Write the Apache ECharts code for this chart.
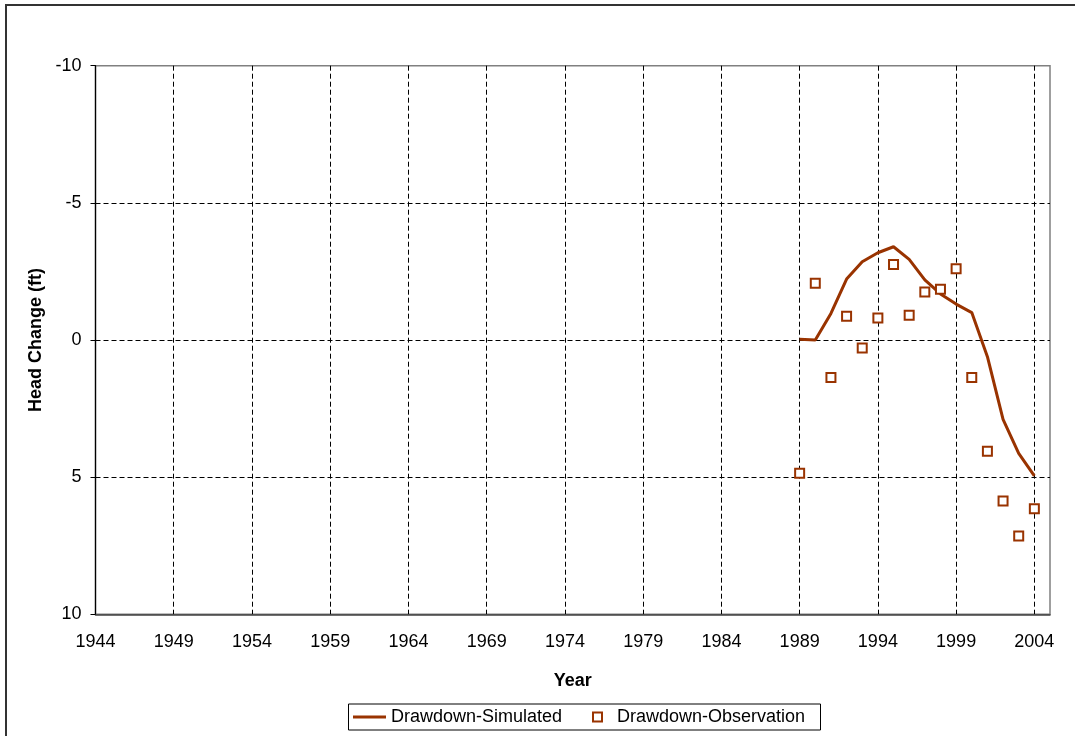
<!DOCTYPE html>
<html>
<head>
<meta charset="utf-8">
<script src="https://cdn.jsdelivr.net/npm/echarts@6/dist/echarts.min.js"></script>
<style>
  html, body { margin: 0; padding: 0; background: #fff; }
  #chart { width: 1075px; height: 736px; }
</style>
</head>
<body>
<div id="chart"></div>
<script>
// Years of record
const years = [1989, 1990, 1991, 1992, 1993, 1994, 1995, 1996,
               1997, 1998, 1999, 2000, 2001, 2002, 2003, 2004];
// Simulated drawdown (ft); negative = head rise
const simulated = [-0.03, 0.0, -0.97, -2.22, -2.85, -3.18, -3.40, -2.94,
                   -2.19, -1.68, -1.31, -1.00, 0.61, 2.89, 4.13, 4.95];
// Observed drawdown (ft)
const observed = [4.86, -2.07, 1.37, -0.87, 0.29, -0.80, -2.75, -0.90,
                  -1.75, -1.85, -2.60, 1.37, 4.06, 5.87, 7.15, 6.15];
// Axis ranges
const xMin = 1944, xMax = 2005, xStep = 5, xLastLabel = 2004;
const yMin = -10, yMax = 10, yStep = 5;

const FONT = '"Liberation Sans", Arial, sans-serif';
const RED = '#993300';

const chart = echarts.init(document.getElementById('chart'), null, { renderer: 'canvas' });

const simPairs = years.map((y, i) => [y, simulated[i]]);
const obsPairs = years.map((y, i) => [y, observed[i]]);

chart.setOption({
  animation: false,
  backgroundColor: '#fff',
  textStyle: { fontFamily: FONT },
  grid: {
    left: 95.5, top: 65.7, right: 25, bottom: 121.7,
    show: true, borderColor: '#808080', borderWidth: 1.5, backgroundColor: '#fff'
  },
  xAxis: {
    type: 'value', min: xMin, max: xMax, interval: xStep,
    axisLine: { show: true, onZero: false, lineStyle: { color: '#404040', width: 1.5 } },
    axisTick: { show: false },
    axisLabel: {
      color: '#000', fontSize: 18, fontFamily: FONT, margin: 19,
      showMaxLabel: false,
      formatter: v => (v <= xLastLabel && (v - xMin) % xStep === 0) ? String(v) : ''
    },
    splitLine: {
      show: true, showMinLine: false, showMaxLine: false,
      lineStyle: { color: '#000', width: 1, type: [5, 3] }
    },
    name: 'Year', nameLocation: 'middle', nameGap: 58,
    nameTextStyle: { color: '#000', fontSize: 18, fontWeight: 'bold', fontFamily: FONT }
  },
  yAxis: {
    type: 'value', inverse: true, min: yMin, max: yMax, interval: yStep,
    axisLine: { show: true, onZero: false, lineStyle: { color: '#000', width: 1.2 } },
    axisTick: { show: true, inside: false, length: 5, lineStyle: { color: '#000', width: 1 } },
    axisLabel: { color: '#000', fontSize: 18, fontFamily: FONT, margin: 14 },
    splitLine: {
      show: true, showMinLine: false, showMaxLine: false,
      lineStyle: { color: '#000', width: 1, type: [5, 3] }
    },
    name: 'Head Change (ft)', nameLocation: 'middle', nameGap: 50, nameRotate: 90,
    nameTextStyle: { color: '#000', fontSize: 18, fontWeight: 'bold', fontFamily: FONT }
  },
  legend: [
    {
      data: [{ name: 'Drawdown-Simulated', icon: 'rect' }],
      left: 353, top: 708, padding: 0,
      itemWidth: 33, itemHeight: 3,
      itemStyle: { color: RED, borderWidth: 0, opacity: 1 },
      textStyle: { color: '#000', fontSize: 18, fontFamily: FONT }
    },
    {
      data: [{ name: 'Drawdown-Observation', icon: 'rect' }],
      left: 592, top: 708, padding: 0,
      itemWidth: 9, itemHeight: 9,
      itemStyle: { color: '#fff', borderColor: RED, borderWidth: 2, opacity: 1 },
      textStyle: { color: '#000', fontSize: 18, fontFamily: FONT, padding: [0, 0, 0, 10] }
    }
  ],
  graphic: [
    {
      // outer chart frame (top and left edges)
      type: 'polyline', silent: true, z: 100,
      shape: { points: [[6, 800], [6, 5], [1100, 5]] },
      style: { stroke: '#333', lineWidth: 2, fill: null }
    },
    {
      // legend frame
      type: 'rect', silent: true, z: 100,
      shape: { x: 348.5, y: 704, width: 472, height: 26 },
      style: { stroke: '#000', lineWidth: 1, fill: null }
    }
  ],
  series: [
    {
      name: 'Drawdown-Simulated', type: 'line', data: simPairs,
      symbol: 'none', showSymbol: false,
      lineStyle: { color: RED, width: 3 }, itemStyle: { color: RED },
      z: 3
    },
    {
      name: 'Drawdown-Observation', type: 'scatter', data: obsPairs,
      symbol: 'rect', symbolSize: 9,
      itemStyle: { color: '#fff', borderColor: RED, borderWidth: 2, opacity: 1 },
      z: 4
    }
  ]
});
</script>
</body>
</html>
